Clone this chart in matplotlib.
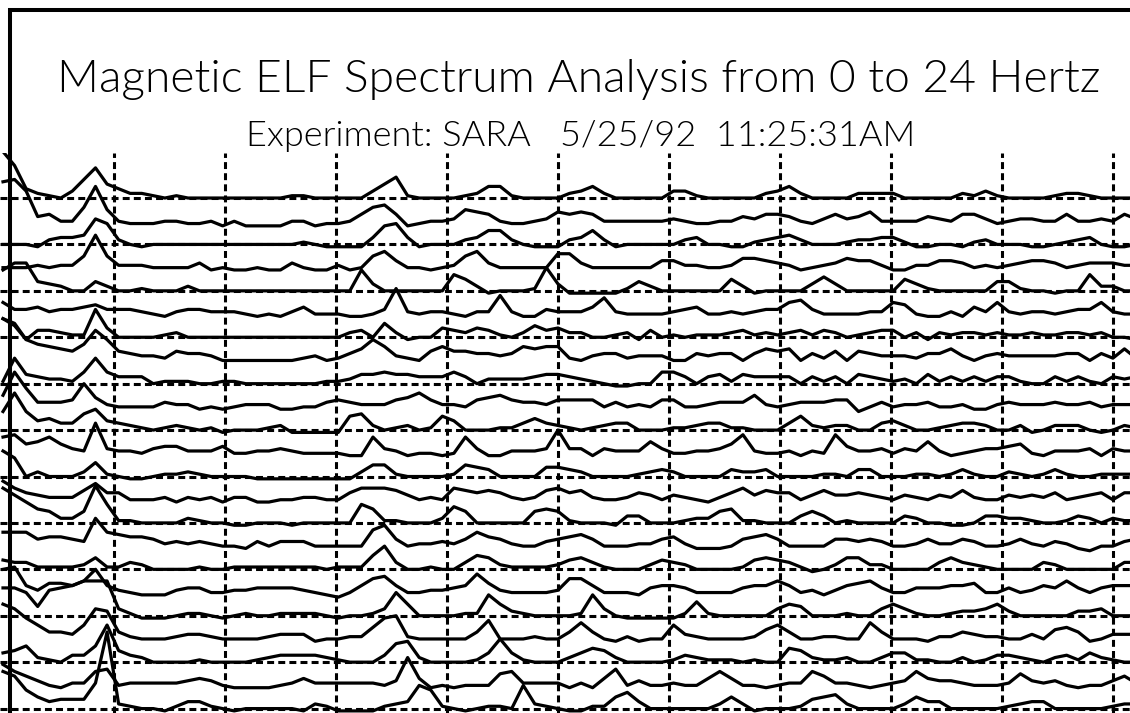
import os
import numpy as np
import matplotlib
matplotlib.use("Agg")
import matplotlib.pyplot as plt
from matplotlib.lines import Line2D
from matplotlib import font_manager as fm

plt.rcParams['lines.scale_dashes'] = False

TITLE = "Magnetic ELF Spectrum Analysis from 0 to 24 Hertz"
SUBTITLE = "Experiment: SARA   5/25/92  11:25:31AM"
FREQ_STEP = 0.25          # Hz between spectral bins
GRID_FREQS = [2.4, 4.8, 7.2, 9.6, 12.0, 14.4, 16.8, 19.2, 21.6, 24.0]
AMP_SCALE = 0.1           # amplitude units -> trace spacing

# spectra, top trace first (amplitude above each trace's own baseline)
spec_01 = [20,14,4,2,1,0,3,8,13,6, 4,2,2,1,0,1,0,0,0,0, 0,0,0,0,0,1,1,0,0,0,
           0,0,3,6,9,1,0,0,0,0, 1,2,5,5,1,0,0,0,0,2, 3,5,2,0,0,0,0,0,3,3,
           1,0,0,0,0,0,2,3,5,2, 0,0,0,0,2,2,2,2,0,0, 0,0,0,2,1,3,1,0,0,0,
           0,1,2,2,1,0,0,0,0]
spec_02 = [17,18,13,2,3,0,0,6,15,5, 0,-1,-1,-1,0,0,-1,-1,0,-2, 0,-2,-2,-2,-2,0,0,-2,-1,-1,
           0,3,6,7,3,-2,-1,0,0,1, 5,4,3,0,-1,-1,0,1,4,3, 4,3,0,0,0,0,0,0,1,0,
           -1,-1,0,0,2,1,3,3,2,0, -1,1,3,1,2,4,0,0,0,0, 2,1,0,3,3,1,-1,0,1,1,
           0,0,3,0,0,1,0,3,1]
spec_03 = [0,0,0,-1,2,3,3,4,11,9, 2,0,-1,0,0,0,0,0,0,0, 0,0,0,0,0,0,1,0,-1,-1,
           -1,-1,3,8,9,3,-1,0,0,0, 2,3,6,6,2,0,-1,-1,-1,2, 3,6,2,-1,0,0,0,0,0,2,
           3,0,0,-1,-1,1,2,3,4,2, 0,0,0,1,2,2,3,3,1,-1, -1,0,0,-1,1,2,0,0,0,-1,
           -1,0,1,2,3,0,-1,-1,0]
spec_04 = [0,0,0,1,0,1,1,5,14,5, 1,1,1,0,0,0,0,2,-1,0, -1,-1,0,-1,-1,2,0,-1,-1,1,
           -1,0,5,7,3,0,0,-1,0,1, 5,7,2,0,0,0,0,0,6,6, 2,0,0,0,0,0,0,3,3,1,
           1,0,0,1,4,4,3,2,1,-1, 0,1,2,4,3,3,1,-1,-1,1, 1,3,3,2,0,1,0,1,2,3,
           3,2,0,1,2,2,2,1,1]
spec_05 = [9,12,12,4,3,2,0,0,4,2, 0,0,1,0,0,0,2,0,0,0, 0,0,0,0,0,0,0,0,0,0,
           0,9,3,0,0,0,0,0,0,7, 5,2,-1,0,0,0,1,10,3,-1, -1,-1,-1,-1,1,4,2,0,0,0,
           0,0,0,5,2,-1,0,0,0,0, 3,6,3,0,0,0,0,0,5,3, 1,0,0,0,0,0,4,4,1,0,
           0,-1,0,0,7,2,2,0,0]
spec_06 = [5,2,2,3,1,2,2,3,4,2, 2,2,1,0,-1,1,2,2,1,1, 1,0,-1,0,-1,1,3,0,0,0,
           -1,-1,0,2,11,1,0,1,1,0, -1,1,1,8,1,-1,-1,2,1,1, 1,3,7,1,0,0,0,0,1,2,
           3,0,0,1,0,1,2,2,5,6, 2,0,0,0,0,1,1,5,4,0, -1,-1,1,-1,3,1,5,1,0,1,
           1,0,1,2,2,5,1,0,0]
spec_07 = [8,5,-1,3,3,2,1,1,12,4, 0,0,0,0,1,2,0,0,0,0, 0,0,0,0,0,0,0,0,0,0,
           2,3,0,6,2,-1,0,0,4,3, 2,4,3,1,0,2,5,3,4,2, 2,0,0,1,2,-1,3,0,1,0,
           1,1,1,2,3,1,2,1,2,3, 1,3,2,0,1,2,3,3,0,2, -1,2,1,2,2,1,2,1,1,2,
           1,1,2,2,1,2,0,0,-1]
spec_08 = [18,16,9,7,6,5,4,7,13,9, 4,3,2,2,1,4,3,3,2,0, 0,0,0,0,0,0,1,2,0,1,
           3,5,9,6,2,1,0,4,6,4, 4,3,3,2,3,6,5,6,6,1, 0,2,3,3,1,2,2,2,0,0,
           3,2,3,3,0,3,5,4,5,0, 3,1,4,0,4,3,2,2,2,1, 3,3,5,2,0,2,3,2,2,2,
           2,2,3,3,0,3,1,5,1]
spec_09 = [1,11,4,3,2,2,1,5,11,5, 3,3,3,0,1,1,1,0,0,1, 1,0,0,0,0,0,0,0,1,1,
           2,4,4,5,4,4,3,3,3,5, 3,0,2,2,2,2,3,4,4,3, 2,1,0,-1,-1,0,0,5,5,3,
           0,3,4,1,4,3,3,3,3,0, 3,1,3,0,4,3,2,1,2,0, 4,1,3,1,3,1,3,3,1,0,
           0,3,1,3,1,0,3,2,3]
spec_10 = [5,15,8,2,2,2,3,10,4,1, 0,0,0,0,2,1,1,-1,0,-1, 0,1,1,1,-1,-1,0,0,2,3,
           2,1,1,1,3,4,6,3,1,1, 0,3,4,5,3,2,2,1,3,3, 3,3,0,2,0,1,0,3,3,0,
           0,1,2,2,2,5,1,0,1,2, 2,2,3,3,-2,0,2,0,1,1, 2,0,0,1,-1,-1,1,2,1,1,
           1,2,1,1,2,0,1,1,1]
spec_11 = [8,16,8,4,5,3,3,7,9,4, 3,2,1,0,1,2,1,0,1,-1, 0,0,0,1,2,-1,-1,-1,-1,-1,
           6,7,2,0,1,2,0,1,6,4, 0,0,0,1,1,3,5,3,2,1, 0,1,2,3,3,0,0,0,1,1,
           2,3,3,1,1,0,0,0,3,6, 2,1,2,2,0,0,3,4,2,0, 0,1,2,3,3,2,0,0,2,-1,
           0,2,2,2,0,-1,0,2,1]
spec_12 = [7,8,4,5,7,4,2,1,13,2, 1,1,0,2,3,3,1,1,1,3, 0,0,1,1,2,1,0,0,0,0,
           -1,-1,7,2,1,-1,0,0,-1,0, 7,2,-1,-1,1,1,1,2,10,2, 2,-1,2,1,1,1,5,2,0,0,
           1,1,2,4,8,1,0,0,1,-1, 1,0,8,3,1,1,2,0,2,1, 5,1,-1,0,1,2,2,3,4,0,
           -1,1,1,1,2,-1,2,1,1]
spec_13 = [11,8,0,2,0,0,0,2,6,1, 0,-1,-1,0,1,1,2,1,0,0, 0,0,-1,-1,-1,-1,-1,-1,-1,-1,
           -1,2,5,5,1,0,0,0,0,1, 5,4,3,0,0,0,0,4,4,3, 2,0,0,0,0,1,2,3,2,0,
           0,0,0,3,2,2,3,0,0,0, 0,1,1,0,3,3,0,0,0,1, 1,0,1,3,1,0,0,2,1,0,
           1,3,1,0,0,1,1,1,1]
spec_14 = [8,5,3,2,1,1,1,4,7,3, 3,0,0,0,1,-1,1,0,1,-1, 1,1,-1,-1,0,0,1,1,0,0,
           3,5,5,5,4,2,0,1,0,5, 4,3,4,3,1,0,1,4,5,3, 4,1,0,0,1,3,2,0,2,1,
           0,-1,1,3,5,2,4,3,3,0, 2,4,2,2,3,2,1,0,2,1, 0,2,1,4,1,0,0,2,1,2,
           1,3,0,1,2,3,0,3,3]
spec_15 = [15,12,9,6,5,2,2,5,16,8, 1,1,0,0,0,0,2,1,0,0, -1,-1,0,0,0,-1,0,0,0,0,
           0,8,6,1,1,0,0,0,2,7, 5,0,0,0,0,0,5,6,5,1, 0,0,0,-1,3,3,0,0,0,1,
           2,2,5,6,1,1,0,0,0,3, 5,3,0,1,0,0,0,0,3,2, 0,0,-1,-1,0,3,3,2,2,1,
           0,0,1,3,2,0,2,1,1]
spec_16 = [6,6,6,3,4,4,3,2,12,6, 5,4,4,3,1,2,1,2,1,0, 0,-1,2,0,2,2,2,0,0,0,
           0,0,7,9,3,0,1,1,2,1, 3,6,4,3,1,0,0,2,3,4, 5,3,0,0,0,1,1,3,4,1,
           -1,-1,-1,0,3,4,5,3,0,0, 0,0,3,3,2,3,2,0,0,1, 3,1,1,3,2,0,0,1,3,1,
           0,2,1,-1,-2,0,0,2,3]
spec_17 = [4,3,3,1,1,1,1,2,5,1, 1,3,2,0,0,0,0,1,0,0, 1,1,1,1,1,1,1,1,0,1,
           1,1,6,10,3,0,0,1,0,0, 3,6,5,2,1,1,1,1,2,4, 5,3,1,0,0,0,2,4,3,2,
           0,0,0,0,1,4,5,4,3,1, -1,0,2,5,5,2,2,0,0,0, 0,3,5,3,2,1,0,0,0,0,
           3,2,0,0,0,0,0,3,3]
spec_18 = [10,11,3,1,4,4,3,5,10,3, 1,0,-1,-1,-1,1,2,2,0,0, 1,1,2,2,2,2,1,0,-1,-2,
           0,3,6,7,3,0,0,1,1,2, 3,8,4,1,0,0,0,0,1,6, 6,3,0,0,0,-1,2,3,3,2,
           0,0,0,0,2,3,3,5,3,0, 1,-1,1,3,4,5,2,0,0,2, 2,2,3,3,4,0,0,2,0,1,
           3,2,5,2,0,2,3,3,3]
spec_19 = [12,12,10,4,11,12,13,15,15,15, 3,1,-1,-1,-1,0,1,1,0,-1, 0,1,0,0,1,1,1,1,0,-1,
           0,0,1,3,10,5,0,0,0,0, 1,1,9,5,2,1,0,0,0,0, 1,9,3,0,-1,-1,-1,-1,-1,1,
           6,1,0,0,0,0,0,3,5,4, 0,0,0,1,0,0,3,5,3,1, 0,0,1,2,2,3,5,2,0,0,
           0,0,0,2,2,3,0,0,0]
spec_20 = [15,13,9,6,3,3,2,6,13,12, 3,1,0,0,0,1,2,2,1,0, 0,0,0,1,2,2,2,-1,0,0,
           1,1,5,9,10,1,0,0,0,0, 0,3,8,0,0,0,1,0,0,3, 7,3,0,-1,1,-1,0,0,6,2,
           1,0,0,0,0,1,4,6,3,0, 0,1,1,0,0,7,3,0,0,0, -1,1,1,3,2,1,1,0,0,2,
           0,4,5,3,-1,0,2,2,2]
spec_21 = [4,5,7,2,1,0,3,3,7,16, 5,3,2,0,0,0,0,1,0,0, 0,0,1,2,3,3,3,3,2,1,
           0,0,0,3,8,9,2,0,0,0, 0,1,4,10,4,1,0,0,0,2, 4,6,5,2,0,0,0,0,1,3,
           2,1,1,1,0,1,0,0,6,5, 2,1,1,2,0,0,2,4,4,1, 1,0,0,2,0,1,3,3,2,1,
           0,2,3,1,4,2,1,0,0]
spec_22 = [9,6,4,2,0,-1,1,1,6,7, 0,1,1,1,1,1,2,3,2,0, -1,-1,-1,-1,0,1,3,1,1,1,
           1,1,1,0,2,12,3,-1,0,-1, 0,0,0,5,6,1,1,1,1,-1, 1,-1,3,7,0,2,0,0,1,0,
           0,3,6,3,0,0,-1,0,1,1, 6,4,1,1,0,-1,0,1,2,6, 3,2,2,1,0,0,0,1,5,2,
           1,2,0,-1,0,0,2,4,1]
spec_23 = [16,14,8,5,3,4,4,4,11,33, 2,1,0,0,-1,1,3,3,1,0, -1,0,0,0,0,0,-1,2,1,-1,
           -1,-1,-1,1,2,3,10,8,1,0, -1,0,1,1,0,10,2,1,0,-1, -1,1,1,5,7,3,0,0,0,0,
           0,0,2,5,2,-1,0,0,0,1, 4,5,6,2,0,0,0,0,2,5, 3,3,0,0,0,0,0,1,2,3,
           3,0,0,0,0,0,1,2,2]

SPECTRA = [spec_01, spec_02, spec_03, spec_04, spec_05, spec_06, spec_07, spec_08,
           spec_09, spec_10, spec_11, spec_12, spec_13, spec_14, spec_15, spec_16,
           spec_17, spec_18, spec_19, spec_20, spec_21, spec_22, spec_23]


def pick_font():
    wanted = ['lato-light.ttf', 'opensans-light.ttf', 'roboto-light.ttf']
    files = {os.path.basename(p).lower(): p for p in fm.findSystemFonts()}
    for w in wanted:
        if w in files:
            return fm.FontProperties(fname=files[w])
    return fm.FontProperties(family=['Lato', 'DejaVu Sans'])


W, H = 1130, 713
fig = plt.figure(figsize=(W / 100, H / 100), dpi=100)
fig.patch.set_facecolor('white')

ax_top_px = 153
ax = fig.add_axes([0, 0, 1, (H - ax_top_px) / H])
ax.set_xlim(-0.065, 24.37)
ax.set_ylim(-0.19, 23.94)
ax.axis('off')

n = len(SPECTRA)
dash = (0, (5.0, 3.0))
for g in range(0, n, 2):
    ax.axhline(g, color='black', lw=2.2, linestyle=dash, zorder=2)
for gf in GRID_FREQS:
    ax.axvline(gf, color='black', lw=2.2, linestyle=dash, zorder=2)

for k, s in enumerate(SPECTRA):
    base = n - 1 - k
    f = np.arange(len(s)) * FREQ_STEP
    ax.plot(f, base + np.asarray(s, dtype=float) * AMP_SCALE, color='black',
            lw=2.3, solid_joinstyle='round', zorder=3)

# outer frame (top and left edges)
fw = 2.9
fig.add_artist(Line2D([8 / W, 1.0], [1 - 10 / H, 1 - 10 / H], transform=fig.transFigure,
                      color='black', lw=fw, solid_capstyle='butt'))
fig.add_artist(Line2D([10 / W, 10 / W], [0.0, 1 - 8 / H], transform=fig.transFigure,
                      color='black', lw=fw, solid_capstyle='butt'))

fp_title = pick_font().copy()
fp_title.set_size(33.3)
fp_sub = pick_font().copy()
fp_sub.set_size(26)
fig.text(579 / W, 1 - 92 / H, TITLE, ha='center', va='baseline', fontproperties=fp_title)
fig.text(581 / W, 1 - 146 / H, SUBTITLE, ha='center', va='baseline', fontproperties=fp_sub)

fig.savefig('out.png', dpi=100, facecolor='white')
